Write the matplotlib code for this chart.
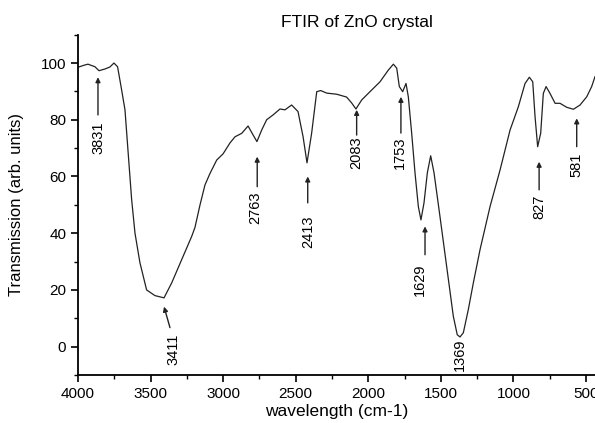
import matplotlib

matplotlib.use("Agg")
import matplotlib.pyplot as plt
from matplotlib.ticker import MultipleLocator

plt.rcParams["font.family"] = ["Liberation Sans", "DejaVu Sans"]

# FTIR spectrum
wavenumber = [
    4000, 3960, 3931, 3883, 3855, 3814, 3780, 3752, 3727, 3699, 3676, 3655,
    3630, 3607, 3573, 3527, 3470, 3407, 3354, 3286, 3217, 3194, 3159, 3125,
    3091, 3044, 3000, 2953, 2918, 2872, 2828, 2793, 2767, 2734, 2700, 2656,
    2608, 2574, 2528, 2484, 2449, 2422, 2390, 2355, 2328, 2286, 2217, 2149,
    2114, 2085, 2045, 1988, 1919, 1862, 1827, 1804, 1786, 1763, 1740, 1724,
    1701, 1678, 1655, 1637, 1616, 1593, 1570, 1547, 1506, 1460, 1414, 1387,
    1368, 1345, 1311, 1276, 1230, 1161, 1092, 1023, 966, 920, 890, 867, 851,
    833, 812, 794, 775, 748, 713, 679, 633, 587, 541, 495, 461, 438,
]
transmission = [
    98.5, 99.2, 99.6, 98.7, 97.3, 97.9, 98.6, 100.0, 98.7, 90.5, 83.5, 69.0,
    51.8, 40.0, 29.6, 20.0, 18.0, 17.2, 22.5, 30.6, 38.8, 42.0, 50.0, 57.0,
    61.0, 65.8, 68.0, 71.8, 74.0, 75.2, 77.8, 74.6, 72.3, 76.4, 80.0, 81.7,
    83.8, 83.5, 85.2, 82.9, 74.0, 64.8, 75.3, 89.9, 90.3, 89.4, 89.0, 88.0,
    85.9, 83.8, 87.0, 89.9, 93.4, 97.5, 99.6, 98.2, 91.7, 89.9, 92.8, 88.1,
    75.3, 61.3, 49.4, 44.7, 50.7, 61.3, 67.3, 61.3, 45.9, 28.3, 10.7, 4.2,
    3.4, 4.9, 13.0, 22.5, 34.2, 49.4, 62.3, 76.4, 84.6, 92.8, 95.0, 93.4, 81.1,
    70.5, 75.3, 89.3, 91.7, 89.3, 85.8, 85.8, 84.4, 83.7, 85.2, 88.1, 91.7, 95.2,
]

# peak labels: text, label x, label y, arrow tip (x, y), arrow tail (x, y)
peak_labels = ["3831", "3411", "2763", "2413", "2083", "1753", "1629", "1369", "827", "581"]
label_x = [3862, 3339, 2780, 2414, 2085, 1781, 1644, 1368, 824, 568]
label_y = [73.6, -1.0, 49.0, 40.6, 68.3, 68.3, 23.6, -2.8, 49.4, 64.1]
tip_xy = [(3862, 95.0), (3407, 14.1), (2765, 67.0), (2417, 60.0), (2080, 83.5),
          (1775, 88.1), (1609, 42.4), None, (823, 65.2), (564, 80.5)]
tail_xy = [(3862, 81.7), (3366, 6.7), (2765, 56.4), (2417, 50.7), (2080, 74.6),
           (1775, 75.3), (1609, 32.4), None, (823, 55.3), (564, 70.5)]

fig = plt.figure(figsize=(5.95, 4.23), dpi=100)
ax = fig.add_axes([0.131, 0.1135, 0.869, 0.8045])

ax.plot(wavenumber, transmission, color="#222222", lw=0.9)

for txt, lx, ly, tip, tail in zip(peak_labels, label_x, label_y, tip_xy, tail_xy):
    ax.text(lx, ly, txt, rotation=90, ha="center", va="center", fontsize=10.5)
    if tip is not None:
        ax.annotate("", xy=tip, xytext=tail,
                    arrowprops=dict(arrowstyle="-|>", color="#222222", lw=1.0,
                                    mutation_scale=7, shrinkA=0, shrinkB=0))

ax.set_xlim(4000, 438)
ax.set_ylim(-10, 110)
ax.xaxis.set_major_locator(MultipleLocator(500))
ax.xaxis.set_minor_locator(MultipleLocator(250))
ax.yaxis.set_major_locator(MultipleLocator(20))
ax.yaxis.set_minor_locator(MultipleLocator(10))
ax.set_yticks([0, 20, 40, 60, 80, 100])
ax.tick_params(which="major", direction="out", length=5, width=1.2, labelsize=11)
ax.tick_params(which="minor", direction="out", length=3, width=1.0)
for side in ("top", "right"):
    ax.spines[side].set_visible(False)
for side in ("left", "bottom"):
    ax.spines[side].set_linewidth(1.3)

ax.set_xlabel("wavelength (cm-1)", fontsize=12.5, labelpad=2)
ax.set_ylabel("Transmission (arb. units)", fontsize=12, labelpad=12)
fig.text(357 / 595, 1 - 22 / 423, "FTIR of ZnO crystal", ha="center", va="center", fontsize=12.5)

fig.savefig("out.png", dpi=100)
